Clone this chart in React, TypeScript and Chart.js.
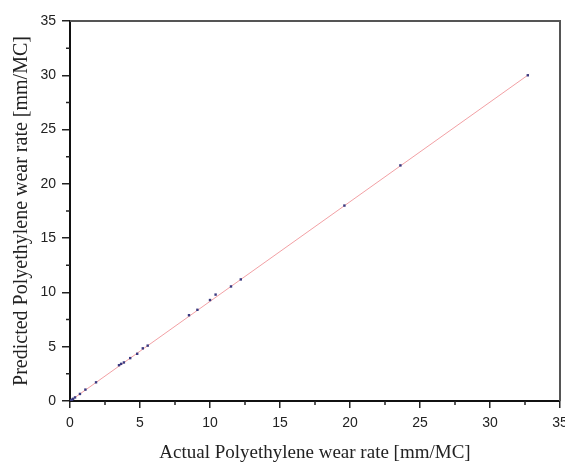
import React, { useEffect, useRef } from "react";
import { Chart, registerables } from "chart.js";

Chart.register(...registerables);

const actualRate = [0.03, 0.08, 0.15, 0.22, 0.36, 0.71, 1.1, 1.86, 3.5, 3.65, 3.85, 4.3, 4.8, 5.2, 5.55, 8.5, 9.1, 10.0, 10.4, 11.5, 12.2, 19.6, 23.6, 32.7];
const predictedRate = [0.03, 0.07, 0.12, 0.2, 0.33, 0.65, 1.05, 1.72, 3.3, 3.42, 3.55, 3.95, 4.35, 4.85, 5.1, 7.9, 8.4, 9.3, 9.8, 10.55, 11.2, 18.0, 21.7, 30.0];
const fitX = [0, 32.8];
const fitY = [0, 30.1];
const axisMin = 0;
const axisMax = 35;
const majorStep = 5;
const minorStep = 2.5;
const xTitle = "Actual Polyethylene wear rate [mm/MC]";
const yTitle = "Predicted Polyethylene wear rate [mm/MC]";

const frameAndMinor = {
  id: "frameAndMinor",
  afterDraw(chart: any) {
    const { ctx, chartArea, scales } = chart;
    const xs = scales.x;
    const ys = scales.y;
    ctx.save();
    ctx.strokeStyle = "#555";
    ctx.lineWidth = 2;
    ctx.beginPath();
    ctx.moveTo(chartArea.left, chartArea.top);
    ctx.lineTo(chartArea.right, chartArea.top);
    ctx.lineTo(chartArea.right, chartArea.bottom);
    ctx.stroke();
    ctx.strokeStyle = "#222";
    ctx.lineWidth = 1.5;
    ctx.beginPath();
    for (let v = axisMin + minorStep; v < axisMax; v += majorStep) {
      const px = xs.getPixelForValue(v);
      ctx.moveTo(px, chartArea.bottom);
      ctx.lineTo(px, chartArea.bottom + 4);
      const py = ys.getPixelForValue(v);
      ctx.moveTo(chartArea.left, py);
      ctx.lineTo(chartArea.left - 4, py);
    }
    ctx.stroke();
    ctx.restore();
  },
};

export default function App() {
  const ref = useRef<HTMLCanvasElement>(null);
  useEffect(() => {
    if (!ref.current) return;
    const points = actualRate.map((x, i) => ({ x, y: predictedRate[i] }));
    const fit = fitX.map((x, i) => ({ x, y: fitY[i] }));
    const chart = new Chart(ref.current, {
      type: "scatter",
      data: {
        datasets: [
          {
            type: "line",
            data: fit,
            borderColor: "#f2a0a4",
            borderWidth: 1,
            pointRadius: 0,
            showLine: true,
            order: 2,
          } as any,
          {
            data: points,
            pointStyle: "rect",
            pointRadius: 1.7,
            backgroundColor: "#3a3a80",
            borderColor: "#3a3a80",
            borderWidth: 0,
            order: 1,
          },
        ],
      },
      options: {
        animation: false,
        responsive: false,
        maintainAspectRatio: false,
        layout: { padding: { left: 0, right: 5, top: 21, bottom: 0 } },
        plugins: { legend: { display: false }, tooltip: { enabled: false } },
        scales: {
          x: {
            type: "linear",
            min: axisMin,
            max: axisMax,
            ticks: {
              stepSize: majorStep,
              color: "#222",
              font: { family: "'Liberation Sans', Arial, sans-serif", size: 14 },
              padding: 7,
              maxRotation: 0,
            },
            grid: { display: true, drawOnChartArea: false, drawTicks: true, tickLength: 7, color: "#222", lineWidth: 1.5 },
            border: { display: true, color: "#111", width: 2 },
            title: {
              display: true,
              text: xTitle,
              color: "#222",
              font: { family: "'Liberation Serif', 'Times New Roman', serif", size: 19 },
              padding: { top: 0, bottom: 3 },
            },
            afterFit(scale: any) {
              scale.height = 66;
              scale.paddingLeft = 0;
              scale.paddingRight = 0;
            },
          },
          y: {
            type: "linear",
            min: axisMin,
            max: axisMax,
            ticks: {
              stepSize: majorStep,
              color: "#222",
              font: { family: "'Liberation Sans', Arial, sans-serif", size: 14 },
              padding: 6,
            },
            grid: { display: true, drawOnChartArea: false, drawTicks: true, tickLength: 8, color: "#222", lineWidth: 1.5 },
            border: { display: true, color: "#111", width: 2 },
            title: {
              display: true,
              text: yTitle,
              color: "#222",
              font: { family: "'Liberation Serif', 'Times New Roman', serif", size: 20 },
              padding: { top: 10, bottom: 0 },
            },
            afterFit(scale: any) {
              scale.width = 70;
              scale.paddingTop = 0;
              scale.paddingBottom = 0;
            },
          },
        },
      },
      plugins: [frameAndMinor],
    });
    return () => chart.destroy();
  }, []);
  return (
    <div style={{ position: "absolute", left: 0, top: 0, width: 565, height: 467, background: "#fff" }}>
      <canvas ref={ref} width={565} height={467} style={{ width: 565, height: 467 }} />
    </div>
  );
}
